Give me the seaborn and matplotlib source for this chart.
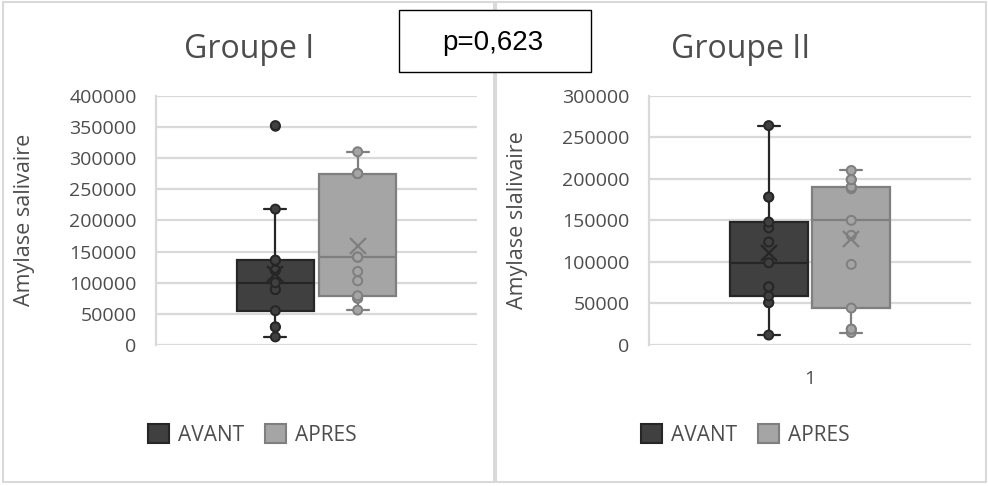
import numpy as np
import pandas as pd
import matplotlib
matplotlib.use("Agg")
import matplotlib.pyplot as plt
from matplotlib.patches import Patch, Rectangle
from matplotlib.ticker import FuncFormatter
import seaborn as sns

# data (amylase values per group, before / after)
periodes = ["AVANT", "APRES"]
groupes = ["Groupe I", "Groupe II"]

g1_avant = [13000, 29000, 29000, 55000, 89000, 89000, 100000, 120000, 120000,
            136000, 136000, 218000, 352000]
g1_apres = [56000, 75000, 75000, 79000, 103000, 118000, 141000, 141000, 141000,
            275000, 275000, 275000, 310000]
g2_avant = [12000, 51000, 51000, 59000, 70000, 70000, 99000, 124000, 141000,
            148000, 178000, 178000, 264000]
g2_apres = [15000, 19000, 19000, 44500, 97000, 132000, 150000, 188000, 190000,
            190000, 199000, 199000, 210000]

y_labels = ["Amylase salivaire", "Amylase slalivaire"]
y_max = [400000, 300000]
x_cat = "1"
p_text = "p=0,623"

rows = []
for g, avant, apres in zip(groupes, [g1_avant, g2_avant], [g1_apres, g2_apres]):
    for per, vals in zip(periodes, [avant, apres]):
        for v in vals:
            rows.append((g, per, x_cat, v))
df = pd.DataFrame(rows, columns=["groupe", "periode", "x", "valeur"])

fill = {"AVANT": "#404040", "APRES": "#a5a5a5"}
edge = {"AVANT": "#262626", "APRES": "#7f7f7f"}
txt = "#4d4d4d"

sns.set_style("white")
plt.rcParams["font.family"] = ["Open Sans", "DejaVu Sans"]

W, H = 988, 486
fig = plt.figure(figsize=(W / 100, H / 100), dpi=100)

ax_left = [156, 649]
ax_w = [321, 322]
top, bottom = 95.67, 345
axes = [fig.add_axes([ax_left[i] / W, 1 - bottom / H, ax_w[i] / W, (bottom - top) / H])
        for i in range(2)]

for i, (ax, g) in enumerate(zip(axes, groupes)):
    d = df[df.groupe == g]
    sns.boxplot(data=d, x="x", y="valeur", hue="periode", hue_order=periodes,
                palette=fill, width=0.8, gap=0.06, linewidth=1.6,
                showmeans=True,
                meanprops=dict(marker="x", markersize=11, markeredgewidth=1.6, zorder=6),
                flierprops=dict(marker="o", markersize=6.5),
                legend=False, ax=ax)
    for p in ax.patches:
        k = "AVANT" if p.get_path().vertices[:, 0].mean() < 0 else "APRES"
        p.set_edgecolor(edge[k])
        p.set_facecolor(fill[k])
    for ln in ax.lines:
        xd = np.asarray(ln.get_xdata(), dtype=float)
        yd = np.asarray(ln.get_ydata(), dtype=float)
        if len(xd) == 0:
            continue
        k = "AVANT" if xd.mean() < 0 else "APRES"
        ln.set_color(edge[k])
        ln.set_markeredgecolor(edge[k])
        if ln.get_marker() == "o":
            ln.set_markerfacecolor(fill[k])
        # narrower whisker caps, like the Excel chart
        if len(xd) == 2 and yd[0] == yd[1] and 0 < abs(xd[1] - xd[0]) < 0.3:
            c = xd.mean()
            ln.set_xdata([c - 0.054, c + 0.054])

    sns.stripplot(data=d, x="x", y="valeur", hue="periode", hue_order=periodes,
                  palette=fill, dodge=True, jitter=False, size=6.5, linewidth=1.4,
                  legend=False, ax=ax, zorder=4)
    for c in ax.collections:
        offs = c.get_offsets()
        if len(offs):
            k = "AVANT" if np.asarray(offs)[:, 0].mean() < 0 else "APRES"
            c.set_edgecolor(edge[k])

    ax.set_xlim(-0.78, 0.78)
    ax.set_ylim(0, y_max[i])
    ax.set_yticks(np.arange(0, y_max[i] + 1, 50000))
    ax.yaxis.set_major_formatter(FuncFormatter(lambda v, _: f"{v:.0f}"))
    ax.set_axisbelow(True)
    ax.yaxis.grid(True, color="#d9d9d9", lw=1.6)
    ax.xaxis.grid(False)
    for s in ["top", "right", "bottom"]:
        ax.spines[s].set_visible(False)
    ax.spines["left"].set_color("#d9d9d9")
    ax.spines["left"].set_linewidth(1.6)
    ax.tick_params(axis="y", length=0, pad=14, labelsize=14, labelcolor=txt)
    ax.tick_params(axis="x", length=0, pad=18, labelsize=14, labelcolor=txt)
    ax.set_xlabel("")
    ax.set_ylabel(y_labels[i], fontsize=15.5, color=txt)
    ax.yaxis.set_label_coords(-0.377, 0.5)
    if i == 0:
        ax.tick_params(axis="x", labelbottom=False)

# titles
fig.text(249 / W, 1 - 57.5 / H, groupes[0], ha="center", va="baseline",
         fontsize=23, color=txt)
fig.text(741 / W, 1 - 57.5 / H, groupes[1], ha="center", va="baseline",
         fontsize=23, color=txt)

# legends
handles = [Patch(facecolor=fill[k], edgecolor=edge[k], lw=1.5, label=k) for k in periodes]
for cx in [252.5, 745.5]:
    fig.legend(handles=handles, loc="center", bbox_to_anchor=(cx / W, 1 - 435 / H),
               ncol=2, frameon=False, fontsize=15, handlelength=1.0, handleheight=1.0,
               handletextpad=0.45, columnspacing=1.0, labelcolor=txt)

# chart borders
for x0, x1 in [(3, 494), (496, 986)]:
    fig.add_artist(Rectangle((x0 / W, 1 - 482 / H), (x1 - x0) / W, 480 / H,
                             transform=fig.transFigure, fill=False,
                             edgecolor="#d9d9d9", lw=1.5))

# p-value box
fig.add_artist(Rectangle((399 / W, 1 - 72.3 / H), 192 / W, 62.3 / H,
                         transform=fig.transFigure, facecolor="white",
                         edgecolor="black", lw=1.0, zorder=10))
fig.text(493 / W, 1 - 50 / H, p_text, ha="center", va="baseline", fontsize=20,
         family=["Liberation Sans", "DejaVu Sans"], color="black", zorder=11)

fig.savefig("out.png", dpi=100)
